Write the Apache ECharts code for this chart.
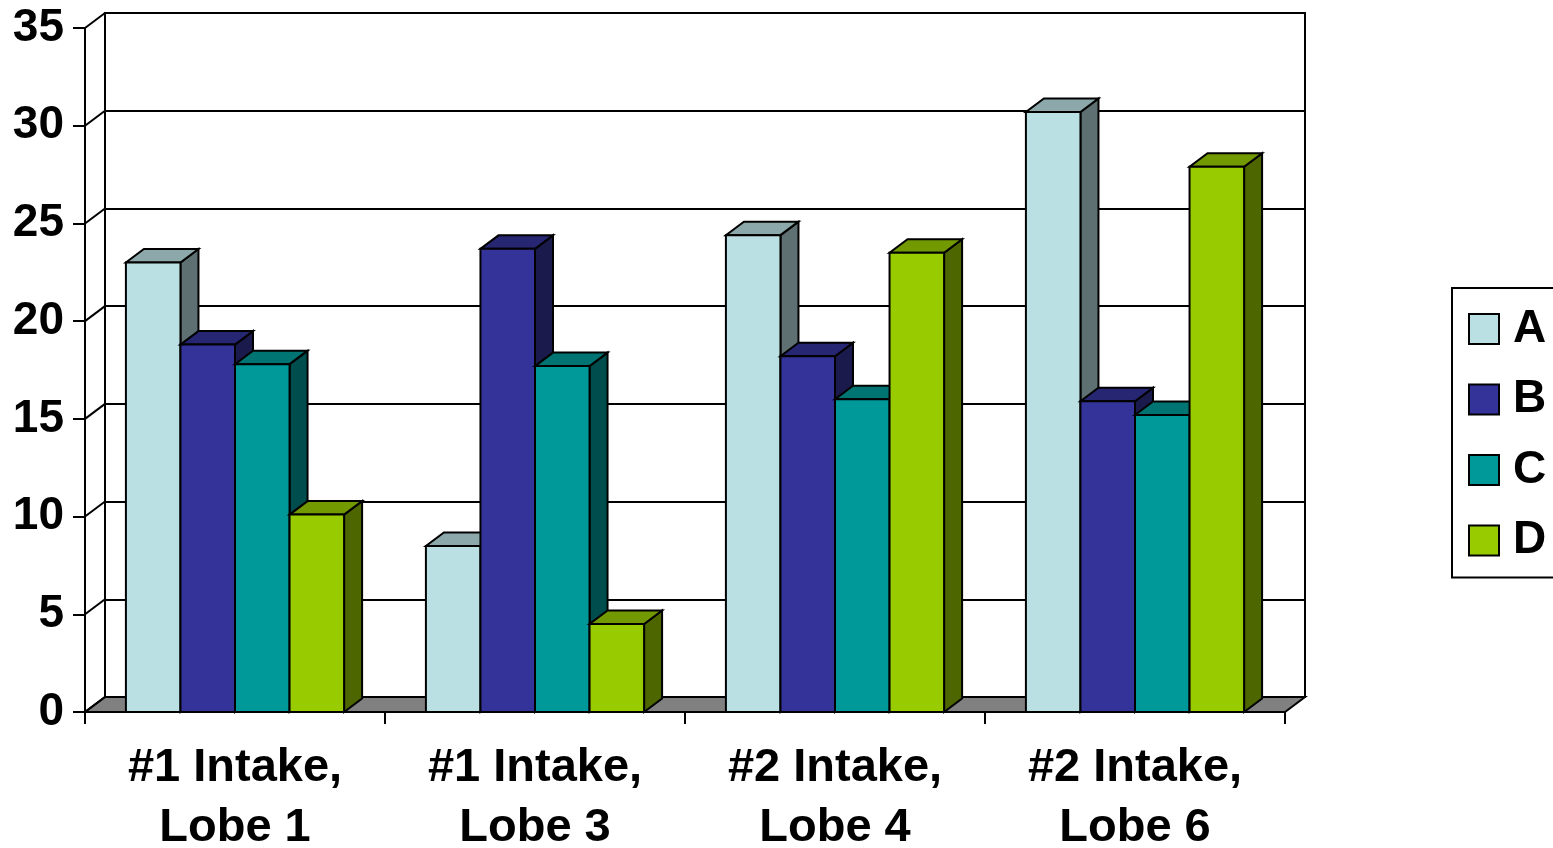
<!DOCTYPE html>
<html>
<head>
<meta charset="utf-8">
<script src="https://cdn.jsdelivr.net/npm/echarts@6/dist/echarts.min.js"></script>
<style>
  html, body { margin: 0; padding: 0; background: #ffffff; }
  #chart { width: 1553px; height: 848px; }
</style>
</head>
<body>
<div id="chart"></div>
<script>
// ---- data ----
const categories = ['#1 Intake,\nLobe 1', '#1 Intake,\nLobe 3', '#2 Intake,\nLobe 4', '#2 Intake,\nLobe 6'];
const seriesNames = ['A', 'B', 'C', 'D'];
const valuesA = [23.0, 8.5, 24.4, 30.7];
const valuesB = [18.8, 23.7, 18.2, 15.9];
const valuesC = [17.8, 17.7, 16.0, 15.2];
const valuesD = [10.1, 4.5, 23.5, 27.9];
const yMin = 0, yMax = 35, yStep = 5;

// ---- look ----
const seriesValues = [valuesA, valuesB, valuesC, valuesD];
const frontColors = ['#BBE0E3', '#333399', '#009999', '#99CC00'];
const FONT = "'Liberation Sans', Arial, sans-serif";

// front plane of the 3D box, and the depth offset to the back wall
const FRONT = { left: 85, top: 28, right: 268, bottom: 136 };
const WALL_DX = 20, WALL_DY = -15;
const BAR_DX = 18, BAR_DY = -13.5;
const LW = 2;

function shade(hex, f) {
  const n = parseInt(hex.slice(1), 16);
  const r = Math.round(((n >> 16) & 255) * f);
  const g = Math.round(((n >> 8) & 255) * f);
  const b = Math.round((n & 255) * f);
  return 'rgb(' + r + ',' + g + ',' + b + ')';
}

function faceStyle(fill) {
  return { fill: fill, stroke: '#000', lineWidth: LW, lineJoin: 'miter' };
}

// one 3D column: side face, top face, then front face
function barRenderer(s) {
  return function (params, api) {
    const cat = api.value(0), v = api.value(1);
    const top = api.coord([cat, v]);
    const base = api.coord([cat, 0]);
    const bw = api.size([1, 0])[0];
    const barW = bw / 5.5;
    const x0 = top[0] - bw / 2 + barW * 0.75 + s * barW;
    const x1 = x0 + barW;
    const yT = top[1], yB = base[1];
    const c = frontColors[s];
    return {
      type: 'group',
      children: [
        { type: 'polygon', z2: s * 3,
          shape: { points: [[x1, yB], [x1 + BAR_DX, yB + BAR_DY], [x1 + BAR_DX, yT + BAR_DY], [x1, yT]] },
          style: faceStyle(shade(c, 0.5)) },
        { type: 'polygon', z2: s * 3 + 1,
          shape: { points: [[x0, yT], [x1, yT], [x1 + BAR_DX, yT + BAR_DY], [x0 + BAR_DX, yT + BAR_DY]] },
          style: faceStyle(shade(c, 0.75)) },
        { type: 'rect', z2: s * 3 + 2,
          shape: { x: x0, y: yT, width: barW, height: yB - yT },
          style: faceStyle(c) }
      ]
    };
  };
}

// floor slab and the short edges joining front axis ticks to the back wall
function floorRenderer(params, api) {
  const n = categories.length;
  const bw = api.size([1, 0])[0];
  const xL = api.coord([0, 0])[0] - bw / 2;
  const xR = api.coord([n - 1, 0])[0] + bw / 2;
  const y0 = api.coord([0, yMin])[1];
  const children = [{
    type: 'polygon', z2: 0,
    shape: { points: [[xL, y0], [xR, y0], [xR + WALL_DX, y0 + WALL_DY], [xL + WALL_DX, y0 + WALL_DY]] },
    style: { fill: '#808080', stroke: '#000', lineWidth: LW }
  }];
  for (let v = yMin; v <= yMax; v += yStep) {
    const y = api.coord([0, v])[1];
    children.push({
      type: 'line', z2: 1,
      shape: { x1: xL, y1: y, x2: xL + WALL_DX, y2: y + WALL_DY },
      style: { stroke: '#000', lineWidth: LW }
    });
  }
  return { type: 'group', children: children };
}

const chart = echarts.init(document.getElementById('chart'));

const series = [{
  type: 'custom',
  name: 'floor',
  xAxisIndex: 0, yAxisIndex: 0,
  z: 1,
  silent: true,
  renderItem: floorRenderer,
  data: [[0, 0]]
}];
seriesNames.forEach(function (name, s) {
  series.push({
    type: 'custom',
    name: name,
    xAxisIndex: 0, yAxisIndex: 0,
    z: 2,
    itemStyle: { color: frontColors[s] },
    renderItem: barRenderer(s),
    encode: { x: 0, y: 1 },
    data: seriesValues[s].map(function (v, i) { return [i, v]; })
  });
});

chart.setOption({
  animation: false,
  backgroundColor: '#ffffff',
  grid: [
    { left: FRONT.left, top: FRONT.top, right: FRONT.right, bottom: FRONT.bottom,
      outerBoundsMode: 'none', containLabel: false },
    { left: FRONT.left + WALL_DX, top: FRONT.top + WALL_DY,
      right: FRONT.right - WALL_DX, bottom: FRONT.bottom - WALL_DY,
      outerBoundsMode: 'none', containLabel: false,
      show: true, borderColor: '#000', borderWidth: LW, backgroundColor: 'transparent' }
  ],
  xAxis: [
    { type: 'category', gridIndex: 0, data: categories,
      axisLine: { show: true, lineStyle: { color: '#000', width: LW } },
      axisTick: { show: true, length: 12, lineStyle: { color: '#000', width: LW } },
      axisLabel: { color: '#000', fontFamily: FONT, fontWeight: 'bold', fontSize: 47,
                   lineHeight: 60, margin: 26, interval: 0 },
      splitLine: { show: false } },
    { type: 'category', gridIndex: 1, data: categories, show: false }
  ],
  yAxis: [
    { type: 'value', gridIndex: 0, min: yMin, max: yMax, interval: yStep,
      axisLine: { show: true, lineStyle: { color: '#000', width: LW } },
      axisTick: { show: true, length: 12, lineStyle: { color: '#000', width: LW } },
      axisLabel: { color: '#000', fontFamily: FONT, fontWeight: 'bold', fontSize: 46, margin: 21 },
      splitLine: { show: false } },
    { type: 'value', gridIndex: 1, min: yMin, max: yMax, interval: yStep,
      axisLine: { show: false }, axisTick: { show: false }, axisLabel: { show: false },
      splitLine: { show: true, lineStyle: { color: '#000', width: LW } } }
  ],
  legend: {
    data: seriesNames,
    orient: 'vertical',
    left: 1452, top: 288,
    icon: 'rect',
    itemWidth: 30, itemHeight: 30, itemGap: 24.5,
    padding: [18, 40, 14, 16],
    borderColor: '#000', borderWidth: LW,
    backgroundColor: '#fff',
    selectedMode: false,
    itemStyle: { borderColor: '#000', borderWidth: LW },
    textStyle: { color: '#000', fontFamily: FONT, fontWeight: 'bold', fontSize: 46,
                 lineHeight: 44, padding: [0, 0, 0, 9] }
  },
  series: series
});
</script>
</body>
</html>
